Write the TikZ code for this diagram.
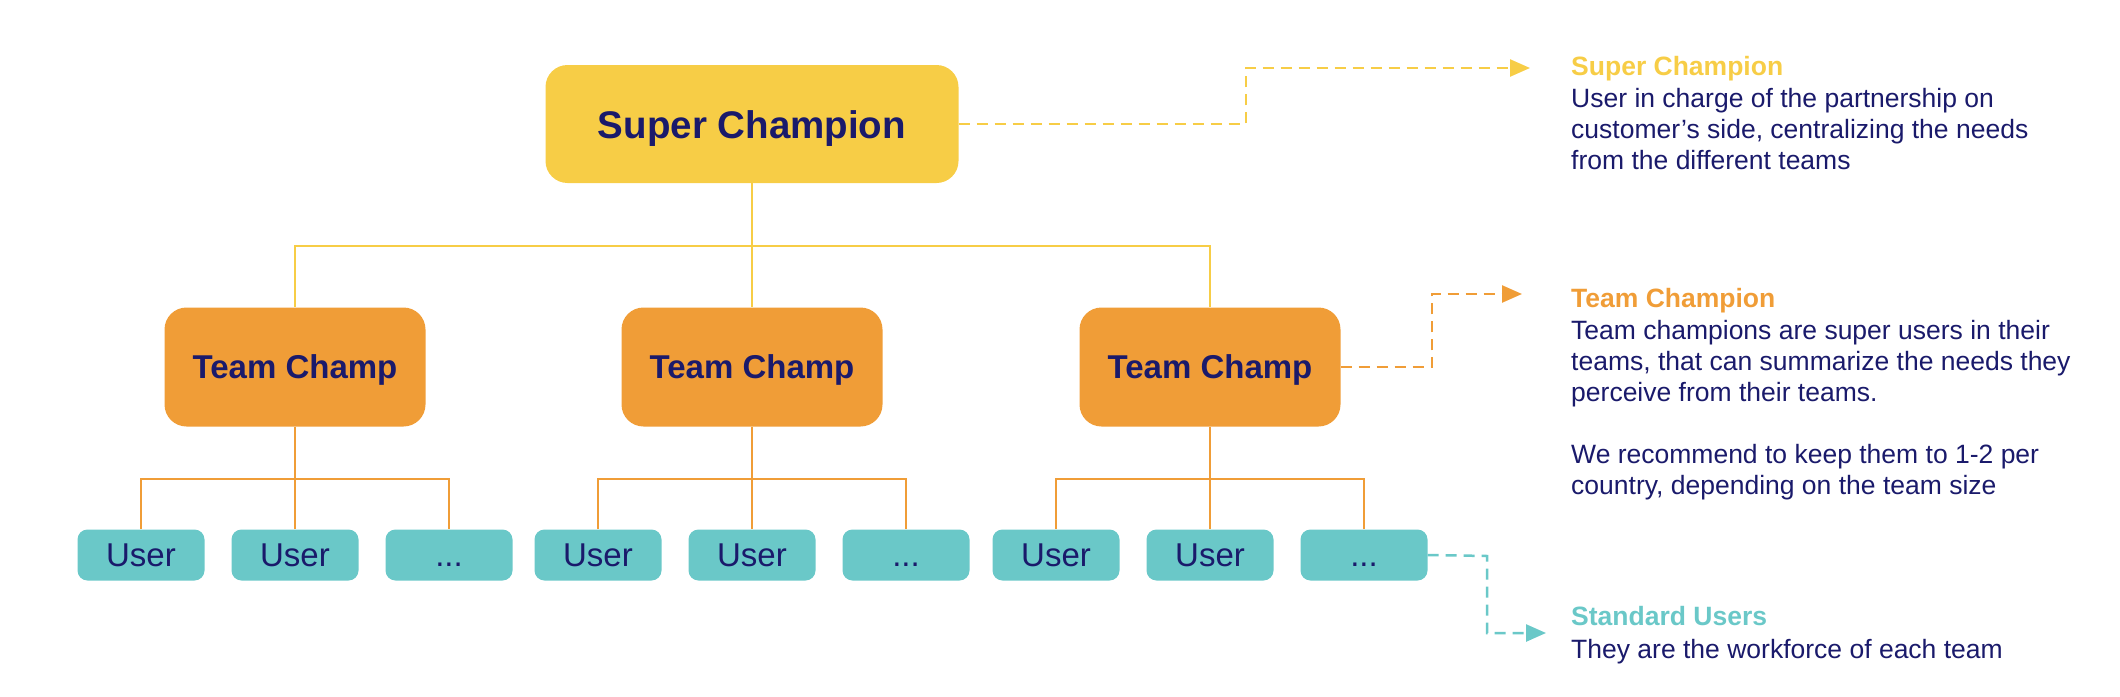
\documentclass[tikz,border=0pt]{standalone}
\usepackage{fontspec}
\setmainfont{Liberation Sans}
\usetikzlibrary{arrows.meta}

\definecolor{champyellow}{HTML}{F7CD46}
\definecolor{champorange}{HTML}{F09D37}
\definecolor{userteal}{HTML}{6AC8C8}
\definecolor{inknavy}{HTML}{1A1A6B}

\begin{document}
\begin{tikzpicture}[x=1pt, y=-1pt,
	box/.style={text=inknavy, shape=rectangle, inner sep=0pt, text depth=0pt},
	superbox/.style={box, fill=champyellow, rounded corners=22pt, minimum width=413pt, minimum height=118pt, text height=28pt, font=\fontsize{38.5}{44}\selectfont\bfseries},
	teambox/.style={box, fill=champorange, rounded corners=22pt, minimum width=261pt, minimum height=119pt, text height=23.5pt, font=\fontsize{33}{38}\selectfont\bfseries},
	userbox/.style={box, fill=userteal, rounded corners=10pt, minimum width=127pt, minimum height=51pt, text height=23.5pt, font=\fontsize{33}{38}\selectfont},
	note/.style={text=inknavy, align=left, inner sep=0pt, anchor=north west, font=\fontsize{26.5}{31}\selectfont},
	link/.style={line width=2pt},
	pointer/.style={line width=2.5pt, dash pattern=on 11pt off 7pt, -{Triangle[length=20pt, width=17pt]}}
]
	\useasboundingbox (0,0) rectangle (2120,696);

	\node[superbox] (sc) at (752,124) {Super Champion};

	\node[teambox] (tc_1) at (295,367) {Team Champ};
	\node[teambox] (tc_2) at (752,367) {Team Champ};
	\node[teambox] (tc_3) at (1210,367) {Team Champ};

	\node[userbox] (u_1_1) at (141,555) {User};
	\node[userbox] (u_1_2) at (295,555) {User};
	\node[userbox] (u_1_3) at (449,555) {...};
	\node[userbox] (u_2_1) at (598,555) {User};
	\node[userbox] (u_2_2) at (752,555) {User};
	\node[userbox] (u_2_3) at (906,555) {...};
	\node[userbox] (u_3_1) at (1056,555) {User};
	\node[userbox] (u_3_2) at (1210,555) {User};
	\node[userbox] (u_3_3) at (1364,555) {...};

	% tree links
	\coordinate (j_sc) at (752,246);
	\draw[link, champyellow] (sc.south) -- (j_sc) -- (tc_2.north);
	\draw[link, champyellow] (j_sc) -| (tc_1.north);
	\draw[link, champyellow] (j_sc) -| (tc_3.north);

	\coordinate (j_tc_1) at (295,479);
	\coordinate (j_tc_2) at (752,479);
	\coordinate (j_tc_3) at (1210,479);
	\draw[link, champorange] (tc_1.south) -- (j_tc_1) -- (u_1_2.north);
	\draw[link, champorange] (j_tc_1) -| (u_1_1.north);
	\draw[link, champorange] (j_tc_1) -| (u_1_3.north);
	\draw[link, champorange] (tc_2.south) -- (j_tc_2) -- (u_2_2.north);
	\draw[link, champorange] (j_tc_2) -| (u_2_1.north);
	\draw[link, champorange] (j_tc_2) -| (u_2_3.north);
	\draw[link, champorange] (tc_3.south) -- (j_tc_3) -- (u_3_2.north);
	\draw[link, champorange] (j_tc_3) -| (u_3_1.north);
	\draw[link, champorange] (j_tc_3) -| (u_3_3.north);

	% notes on the right
	\node[note] (sc_note) at (1571,56) {{\color{champyellow}\bfseries Super Champion}\\[1pt]User in charge of the partnership on\\customer’s side, centralizing the needs\\from the different teams};
	\node[note] (tc_note) at (1571,288) {{\color{champorange}\bfseries Team Champion}\\[1pt]Team champions are super users in their\\teams, that can summarize the needs they\\perceive from their teams.\\[31pt]We recommend to keep them to 1-2 per\\country, depending on the team size};
	\node[note] (su_note) at (1571,606) {{\color{userteal}\bfseries Standard Users}\\[2pt]They are the workforce of each team};

	\coordinate (sc_bend) at (1246,124);
	\coordinate (sc_tip) at (1530,68);
	\draw[pointer, champyellow] (sc.east) -- (sc_bend) |- (sc_tip);

	\coordinate (tc_bend) at (1432,367);
	\coordinate (tc_tip) at (1522,294);
	\draw[pointer, champorange] (tc_3.east) -- (tc_bend) |- (tc_tip);

	\coordinate (su_bend) at (1487,556);
	\coordinate (su_tip) at (1546,633);
	\draw[pointer, userteal] (u_3_3.east) -- (su_bend) |- (su_tip);
\end{tikzpicture}
\end{document}
